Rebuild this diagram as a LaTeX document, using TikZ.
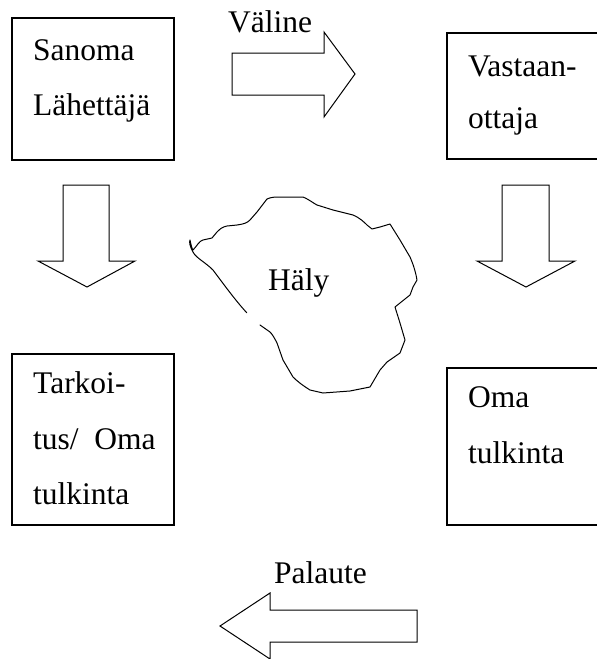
\documentclass[tikz,border=0pt]{standalone}
\usepackage{fontspec}
\setmainfont{Liberation Serif}
\begin{document}
\begin{tikzpicture}[x=1pt,y=-1pt,
  box/.style={draw,line width=1.3pt},
  blockarrow/.style={draw,line width=1pt,line join=miter},
  cloud line/.style={draw,line width=1pt,line cap=round,line join=round},
  lbl/.style={anchor=base west,inner sep=0pt,font=\fontsize{31.5}{36}\selectfont}]
\useasboundingbox (0,0) rectangle (597,659);
\clip (0,0) rectangle (597,659);

% boxes
\draw[box] (12,18) rectangle (174,160);
\draw[box] (447,33) rectangle (610,159);
\draw[box] (12,354) rectangle (174,525);
\draw[box] (447,368) rectangle (610,525);

% box texts
\node[lbl] (sanoma) at (33,60) {Sanoma};
\node[lbl] (lahettaja) at (33,115) {Lähettäjä};
\node[lbl] (vastaan) at (468,76) {Vastaan-};
\node[lbl] (ottaja) at (468,128) {ottaja};
\node[lbl] (tarkoit) at (33,393) {Tarkoi-};
\node[lbl] (tus) at (33,449) {tus/\ \ Oma};
\node[lbl] (tulk1) at (33,504) {tulkinta};
\node[lbl] (oma) at (468,407) {Oma};
\node[lbl] (tulk2) at (468,463) {tulkinta};

% Väline: block arrow pointing right
\draw[blockarrow] (232,53) -- (324,53) -- (324,32) -- (355,74) -- (324,117) -- (324,95) -- (232,95) -- cycle;
\node[lbl] (valine) at (228,32) {Väline};

% down arrows
\draw[blockarrow] (63,185) -- (109,185) -- (109,261) -- (135,261) -- (87,287) -- (38,261) -- (63,261) -- cycle;
\draw[blockarrow] (502,185) -- (549,185) -- (549,261) -- (575,261) -- (526,287) -- (477,261) -- (502,261) -- cycle;

% Palaute: block arrow pointing left
\draw[blockarrow] (417,610) -- (270,610) -- (270,593) -- (220,626) -- (270,659) -- (270,642) -- (417,642) -- cycle;
\node[lbl] (palaute) at (274,583) {Palaute};

% noise blob
\draw[cloud line] (246.7,312.7) .. controls (235,300) and (222,282) .. (213,270)
  .. controls (205,262) and (196,258) .. (193,252)
  .. controls (190,247) and (189,242) .. (190,240)
  .. controls (191,245) and (192,249) .. (193,250)
  .. controls (197,246) and (199,241) .. (203,240)
  -- (212,238) -- (217,232)
  .. controls (220,229) and (222,227) .. (227,226)
  -- (237,225) .. controls (244,224) and (247,223) .. (250,220)
  -- (257,212) -- (267,199) .. controls (271,197) and (276,197) .. (280,197)
  -- (303,197) .. controls (310,200) and (313,203) .. (317,205)
  -- (333,210) -- (353,215) .. controls (360,218) and (364,222) .. (367,225)
  -- (372,229) -- (380,227) -- (390,224)
  -- (400,240) -- (410,257) .. controls (414,266) and (416,274) .. (417,280)
  -- (413,287) -- (410,295) -- (395,307) -- (400,323) -- (405,340)
  -- (400,353) -- (387,362) -- (380,370) -- (370,387) -- (350,391)
  -- (323,393) -- (310,390) .. controls (302,385) and (297,381) .. (293,377)
  -- (283,360) -- (277,343) .. controls (274,337) and (272,334) .. (270,332)
  -- (260,325);
\node[lbl] (haly) at (268,290) {Häly};
\end{tikzpicture}
\end{document}
